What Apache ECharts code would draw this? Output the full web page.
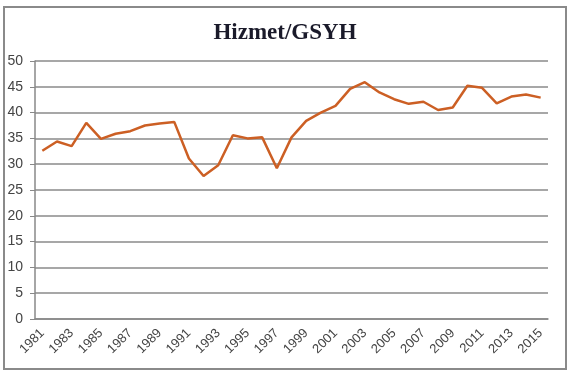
<!DOCTYPE html>
<html>
<head>
<meta charset="utf-8">
<script src="https://cdn.jsdelivr.net/npm/echarts@6/dist/echarts.min.js"></script>
<style>
  html, body { margin: 0; padding: 0; background: #fff; }
  #chart { width: 570px; height: 375px; }
</style>
</head>
<body>
<div id="chart"></div>
<script>
var years = [];
for (var y = 1981; y <= 2015; y++) years.push(String(y));

var hizmet = [32.6, 34.4, 33.5, 38.0, 34.9, 35.9, 36.4, 37.5, 37.9, 38.2,
              31.1, 27.7, 29.8, 35.6, 35.0, 35.2, 29.2, 35.2, 38.4, 40.0,
              41.3, 44.6, 45.9, 43.9, 42.6, 41.7, 42.1, 40.5, 41.0, 45.2,
              44.8, 41.8, 43.1, 43.5, 42.9];

var chart = echarts.init(document.getElementById('chart'));
var option = {
  animation: false,
  title: {
    text: 'Hizmet/GSYH',
    left: 'center',
    top: 17,
    textStyle: {
      fontFamily: 'Liberation Serif',
      fontWeight: 'bold',
      fontSize: 23,
      color: '#1a1a2a'
    }
  },
  graphic: [{
    type: 'rect',
    shape: { x: 4, y: 7, width: 562, height: 362 },
    style: { fill: 'none', stroke: '#8a8a8a', lineWidth: 2 }
  }],
  grid: { left: 35, right: 22, top: 61, bottom: 56 },
  xAxis: {
    type: 'category',
    data: years,
    boundaryGap: true,
    axisLine: { lineStyle: { color: '#888', width: 1.5 } },
    axisTick: { interval: 0, length: 5, lineStyle: { color: '#888' } },
    axisLabel: {
      interval: 1,
      rotate: 45,
      margin: 12,
      fontFamily: 'Liberation Sans',
      fontSize: 13,
      color: '#444'
    }
  },
  yAxis: {
    type: 'value',
    min: 0,
    max: 50,
    interval: 5,
    axisLine: { show: true, lineStyle: { color: '#888', width: 1.5 } },
    axisTick: { show: true, length: 5, lineStyle: { color: '#888' } },
    axisLabel: {
      margin: 12,
      fontFamily: 'Liberation Sans',
      fontSize: 14,
      color: '#444'
    },
    splitLine: { lineStyle: { color: '#8a8a8a', width: 1.5 } }
  },
  series: [{
    type: 'line',
    data: hizmet,
    symbol: 'none',
    lineStyle: { color: '#cc5f24', width: 2.5 }
  }]
};
chart.setOption(option);
</script>
</body>
</html>
